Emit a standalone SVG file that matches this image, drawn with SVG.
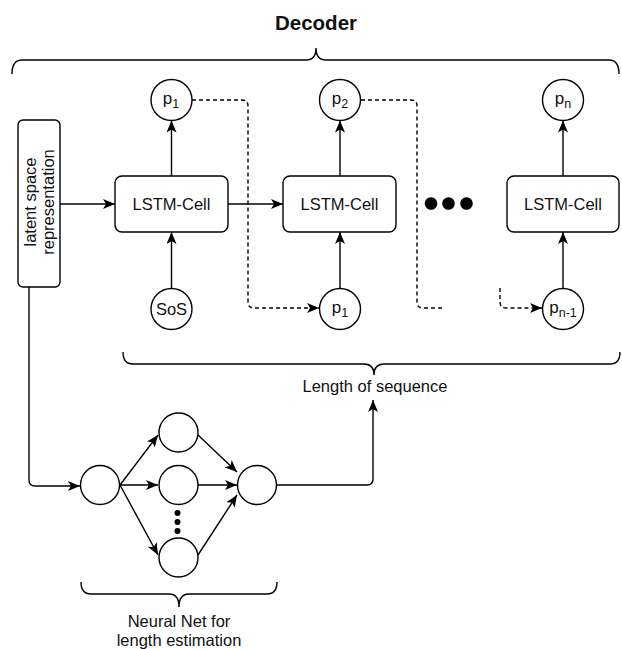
<svg xmlns="http://www.w3.org/2000/svg" width="622" height="649" viewBox="0 0 622 649">
<style>
.s{fill:none;stroke:#000;stroke-width:1.4}
.n{fill:#fff;stroke:#000;stroke-width:1.4}
.d{fill:none;stroke:#000;stroke-width:1.4;stroke-dasharray:4 3}
.a{marker-end:url(#ah)}
text{font-family:"Liberation Sans",Arial,sans-serif;font-size:16.5px;fill:#111}
.c{text-anchor:middle}
.p{font-size:17px}
.sb{font-size:12.5px}
</style>
<defs>
<marker id="ah" markerUnits="userSpaceOnUse" markerWidth="13" markerHeight="11" refX="12" refY="5" orient="auto">
<path d="M0,0 L12,5 L0,10 L3,5 Z" fill="#000"/>
</marker>
</defs>
<rect width="622" height="649" fill="#fff"/>
<text class="c" x="316" y="30" style="font-size:20.5px;font-weight:bold">Decoder</text>
<g id="braces">
<path class="s" d="M12,74 Q12,60 22,60 L306,60 Q316,60 316,48 Q316,60 326,60 L609,60 Q619,60 619,74"/>
<path class="s" d="M123,352 Q123,364 133,364 L364,364 Q374,364 374,375 Q374,364 384,364 L610,364 Q620,364 620,352"/>
<path class="s" d="M81,582 Q81,594 91,594 L169,594 Q179,594 179,607 Q179,594 189,594 L267,594 Q277,594 277,582"/>
</g>
<g id="connectors">
<line class="s a" x1="60" y1="204" x2="115" y2="204"/>
<line class="s a" x1="228" y1="204" x2="283" y2="204"/>
<line class="s a" x1="171.5" y1="176" x2="171.5" y2="120.5"/>
<line class="s a" x1="340" y1="176" x2="340" y2="120.5"/>
<line class="s a" x1="563" y1="176" x2="563" y2="120.5"/>
<line class="s a" x1="171.5" y1="288.5" x2="171.5" y2="232"/>
<line class="s a" x1="340" y1="288.5" x2="340" y2="232"/>
<line class="s a" x1="563" y1="288.5" x2="563" y2="232"/>
<path class="d a" d="M192,100 L242,100 Q248,100 248,106 L248,302 Q248,308 254,308 L319,308"/>
<path class="d" d="M361,100 L411,100 Q417,100 417,106 L417,302 Q417,308 423,308 L444,308"/>
<path class="d a" d="M500,288 L500,302 Q500,308 506,308 L542,308"/>
<path class="s a" d="M29,287 L29,480 Q29,486 35,486 L80,486"/>
<line class="s a" x1="120" y1="485" x2="158" y2="435"/>
<line class="s a" x1="120" y1="485" x2="158" y2="485"/>
<line class="s a" x1="120" y1="485" x2="158" y2="555"/>
<line class="s a" x1="198" y1="435" x2="237" y2="472"/>
<line class="s a" x1="198" y1="485" x2="237" y2="485"/>
<line class="s a" x1="198" y1="555" x2="237" y2="495"/>
<path class="s a" d="M277,485 L367,485 Q373,485 373,479 L373,400"/>
</g>
<g id="latent">
<rect class="n" x="18" y="120" width="42" height="167" rx="5"/>
<text class="c" transform="translate(39,202) rotate(-90)"><tspan x="0" y="-3">latent space</tspan><tspan x="0" y="15">representation</tspan></text>
</g>
<g id="lstm1"><rect class="n" x="115" y="176" width="113" height="56" rx="7"/><text class="c" x="171.5" y="210">LSTM-Cell</text></g>
<g id="lstm2"><rect class="n" x="283" y="176" width="113" height="56" rx="7"/><text class="c" x="339.5" y="210">LSTM-Cell</text></g>
<g id="lstm3"><rect class="n" x="507" y="176" width="112" height="56" rx="7"/><text class="c" x="563" y="210">LSTM-Cell</text></g>
<g id="ellipsis"><circle cx="431" cy="203.5" r="6.3"/><circle cx="448.5" cy="203.5" r="6.3"/><circle cx="466.5" cy="203.5" r="6.3"/></g>
<g id="out1"><circle class="n" cx="171.5" cy="100" r="20.5"/><text class="c p" x="171" y="104">p<tspan class="sb" dy="4">1</tspan></text></g>
<g id="out2"><circle class="n" cx="340" cy="100" r="20.5"/><text class="c p" x="340" y="104">p<tspan class="sb" dy="4">2</tspan></text></g>
<g id="outn"><circle class="n" cx="563" cy="100" r="20.5"/><text class="c p" x="563" y="104">p<tspan class="sb" dy="4">n</tspan></text></g>
<g id="sos"><circle class="n" cx="171.5" cy="309" r="20.5"/><text class="c" x="171.5" y="315">SoS</text></g>
<g id="in1"><circle class="n" cx="340" cy="309" r="20.5"/><text class="c p" x="340" y="313">p<tspan class="sb" dy="4">1</tspan></text></g>
<g id="inn"><circle class="n" cx="563" cy="309" r="20.5"/><text class="c p" x="563" y="313">p<tspan class="sb" dy="4">n-1</tspan></text></g>
<text class="c" x="375" y="392">Length of sequence</text>
<g id="nn-in"><circle class="n" cx="100" cy="485" r="19.5"/></g>
<g id="nn-h1"><circle class="n" cx="178.5" cy="432.5" r="19.5"/></g>
<g id="nn-h2"><circle class="n" cx="178.5" cy="485" r="19.5"/></g>
<g id="nn-h3"><circle class="n" cx="178.5" cy="557.5" r="19.5"/></g>
<g id="nn-out"><circle class="n" cx="257" cy="485" r="19.5"/></g>
<g id="nn-dots"><circle cx="177.5" cy="513" r="3"/><circle cx="177.5" cy="522" r="3"/><circle cx="177.5" cy="531" r="3"/></g>
<text class="c" x="179" y="627">Neural Net for</text>
<text class="c" x="179" y="646">length estimation</text>
</svg>
